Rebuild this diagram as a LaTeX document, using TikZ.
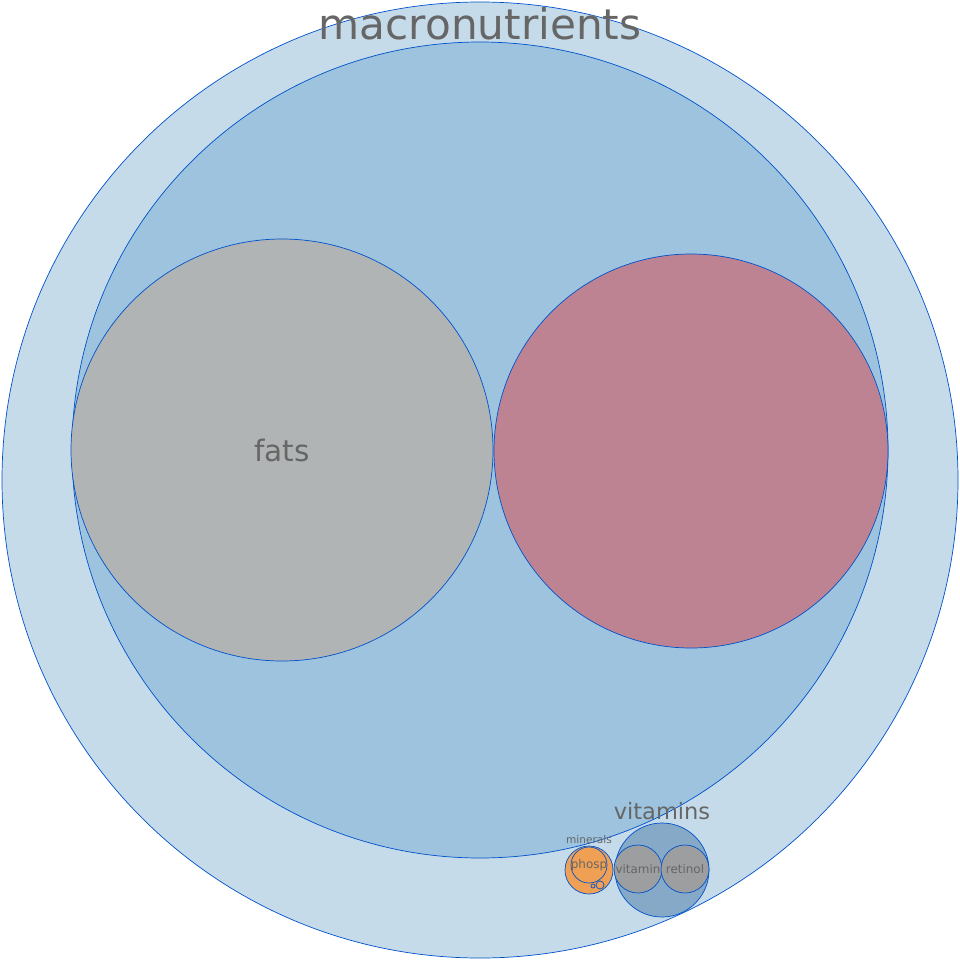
\documentclass[tikz,border=0pt]{standalone}
\usepackage{fontspec}
\setmainfont{DejaVu Sans}
\begin{document}
\begin{tikzpicture}[x=0.025cm,y=-0.025cm,
  bub/.style={draw=blue!60!cyan!80!black,line width=0.5pt},
  lbl/.style={text=black!60,inner sep=0pt}]
\useasboundingbox (0,0) rectangle (960,960);
\definecolor{c1}{HTML}{C6DBEA}\definecolor{c2}{HTML}{9DC3DE}
\definecolor{cf}{HTML}{B1B4B5}\definecolor{cr}{HTML}{BE8393}
\definecolor{cv}{HTML}{86A9C7}\definecolor{co}{HTML}{F0A054}
\definecolor{cg}{HTML}{9C9E9F}
\path[bub,fill=c1] (480,480) circle (478);
\path[bub,fill=c2] (480,450) circle (408);
\path[bub,fill=cf] (282,450) circle (211);
\path[bub,fill=cr] (691,451) circle (197);
\path[bub,fill=cv] (662,870) circle (47);
\path[bub,fill=cg] (638,869) circle (24);
\path[bub,fill=cg] (685,869) circle (24);
\path[bub,fill=co] (589,870) circle (24);
\path[bub,fill=co] (589,865) circle (18);
\path[bub,fill=co] (600,885) circle (4);
\path[bub,fill=co] (593,886) circle (2);
\node[lbl,font=\fontsize{30}{30}\selectfont] (m) at (480,24) {macronutrients};
\node[lbl,font=\fontsize{21}{21}\selectfont] (f) at (282,450) {fats};
\node[lbl,font=\fontsize{16}{16}\selectfont] (v) at (662,811) {vitamins};
\node[lbl,font=\fontsize{7.5}{7.5}\selectfont] (mi) at (589,840) {minerals};
\node[lbl,font=\fontsize{8.5}{8.5}\selectfont] (p) at (589,865) {phosp};
\node[lbl,font=\fontsize{8.5}{8.5}\selectfont] (va) at (638,869) {vitamin};
\node[lbl,font=\fontsize{8.5}{8.5}\selectfont] (r) at (685,869) {retinol};
\end{tikzpicture}
\end{document}
